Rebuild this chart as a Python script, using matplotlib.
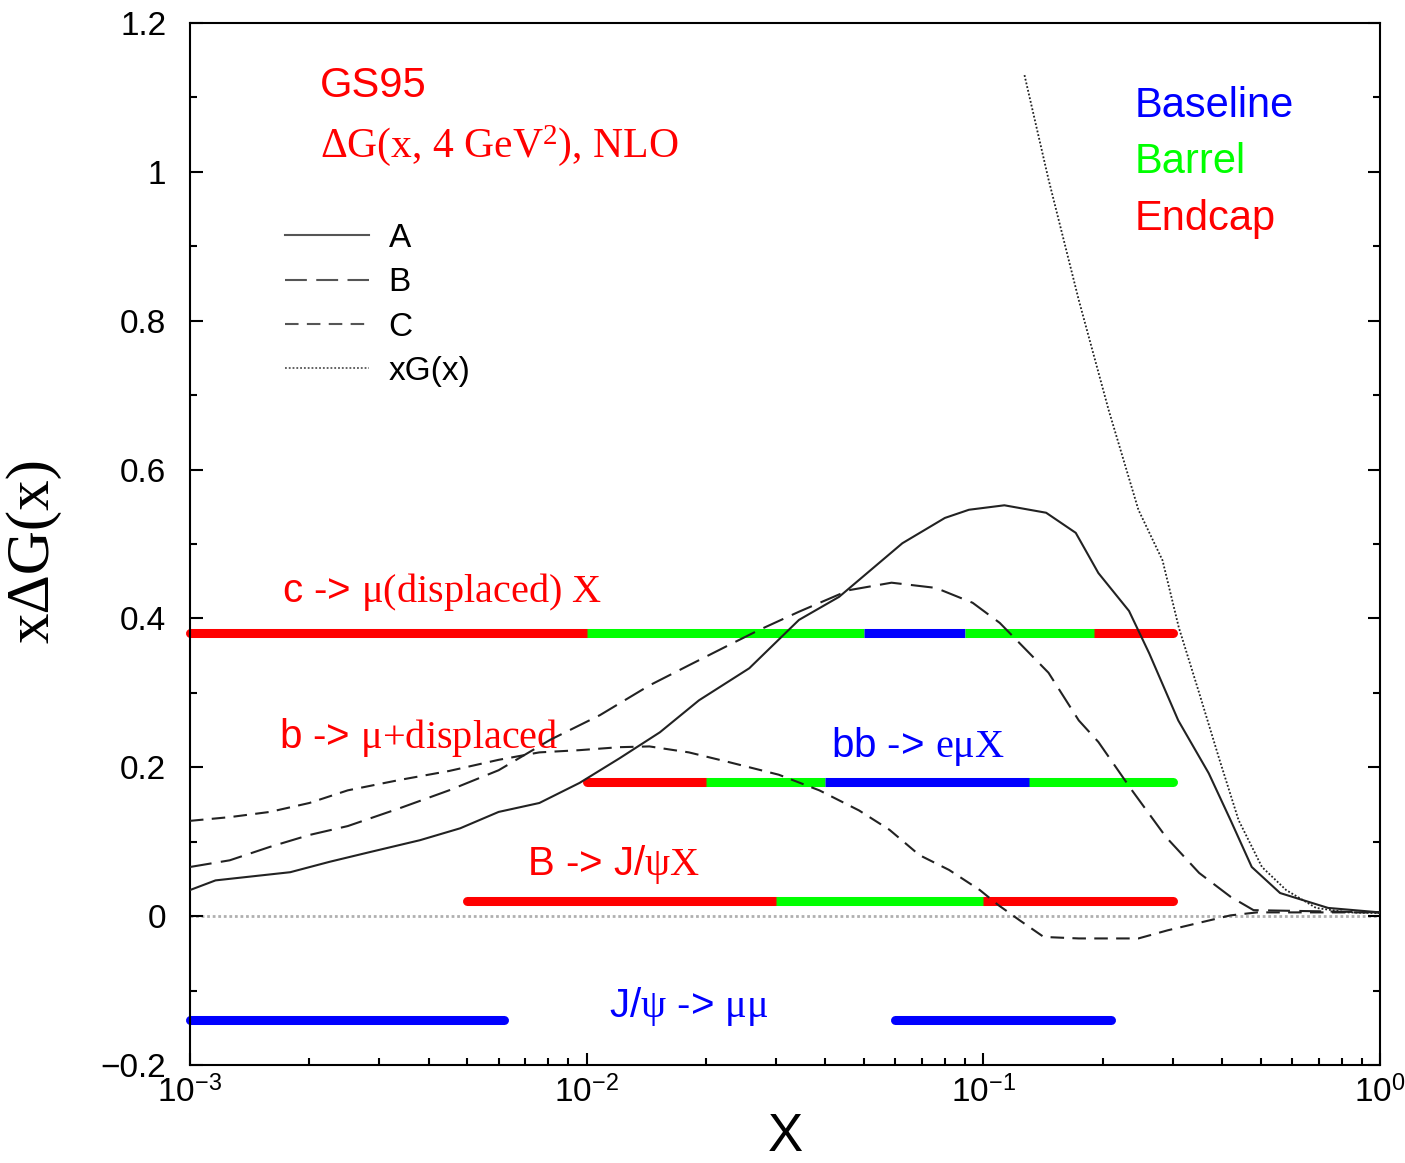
import matplotlib
matplotlib.use('Agg')
import matplotlib.pyplot as plt
from matplotlib.ticker import FixedLocator, FixedFormatter, LogLocator, NullFormatter, MultipleLocator

plt.rcParams['font.family'] = ['Liberation Sans', 'DejaVu Sans']
plt.rcParams['mathtext.fontset'] = 'custom'
plt.rcParams['mathtext.rm'] = 'Liberation Serif'
plt.rcParams['mathtext.it'] = 'Liberation Serif:italic'
plt.rcParams['mathtext.bf'] = 'Liberation Serif:bold'
plt.rcParams['mathtext.sf'] = 'Liberation Sans'

# curves
xA = [0.001, 0.00116, 0.00179, 0.00225, 0.00284, 0.0038, 0.0048, 0.006, 0.0076, 0.0096,
      0.0121, 0.0153, 0.0192, 0.0257, 0.0343, 0.0433, 0.0625, 0.08, 0.092, 0.113, 0.144,
      0.171, 0.195, 0.233, 0.262, 0.31, 0.37, 0.42, 0.475, 0.56, 0.74, 1.0]
yA = [0.035, 0.048, 0.059, 0.073, 0.086, 0.102, 0.118, 0.14, 0.152, 0.179,
      0.212, 0.247, 0.29, 0.333, 0.398, 0.429, 0.501, 0.535, 0.546, 0.552, 0.542,
      0.515, 0.461, 0.41, 0.353, 0.263, 0.192, 0.129, 0.066, 0.031, 0.011, 0.005]

xB = [0.001, 0.00126, 0.00159, 0.002, 0.0025, 0.00338, 0.0045, 0.006, 0.0081, 0.0108,
      0.0144, 0.0181, 0.0228, 0.0271, 0.0343, 0.0459, 0.0587, 0.0759, 0.094, 0.11,
      0.146, 0.174, 0.195, 0.237, 0.289, 0.35, 0.42, 0.48, 1.0]
yB = [0.066, 0.075, 0.093, 0.109, 0.121, 0.145, 0.169, 0.196, 0.237, 0.27,
      0.31, 0.337, 0.364, 0.384, 0.409, 0.438, 0.448, 0.441, 0.421, 0.394,
      0.327, 0.263, 0.234, 0.169, 0.106, 0.058, 0.026, 0.008, 0.005]

xC = [0.001, 0.00126, 0.00159, 0.002, 0.0025, 0.00338, 0.0045, 0.006, 0.0076, 0.0096,
      0.0121, 0.0144, 0.0181, 0.0228, 0.0305, 0.0386, 0.0486, 0.058, 0.069, 0.082,
      0.098, 0.109, 0.123, 0.142, 0.174, 0.246, 0.292, 0.35, 0.42, 0.49, 1.0]
yC = [0.128, 0.133, 0.14, 0.152, 0.169, 0.183, 0.195, 0.21, 0.22, 0.223,
      0.227, 0.228, 0.22, 0.207, 0.19, 0.169, 0.142, 0.116, 0.082, 0.062,
      0.035, 0.015, -0.005, -0.028, -0.03, -0.03, -0.019, -0.009, 0.001, 0.005, 0.005]

xG = [0.127, 0.146, 0.174, 0.207, 0.246, 0.283, 0.311, 0.35, 0.394, 0.44, 0.504, 0.58, 0.69, 0.83, 1.0]
yG = [1.13, 0.99, 0.828, 0.68, 0.546, 0.478, 0.388, 0.30, 0.21, 0.129, 0.066, 0.035, 0.011, 0.005, 0.004]

# detector coverage bars: segment edges, colours, height
c_edges = [0.001, 0.01, 0.05, 0.09, 0.19, 0.3]
c_cols = ['red', 'lime', 'blue', 'lime', 'red']
c_y = 0.38
b_edges = [0.01, 0.02, 0.04, 0.13, 0.3]
b_cols = ['red', 'lime', 'blue', 'lime']
b_y = 0.18
B_edges = [0.005, 0.03, 0.1, 0.3]
B_cols = ['red', 'lime', 'red']
B_y = 0.02
jpsi_segs = [(0.001, 0.0062), (0.06, 0.21)]
jpsi_y = -0.14

fig = plt.figure(figsize=(14.05, 11.63), dpi=100)
ax = fig.add_axes([0.1352, 0.0843, 0.847, 0.8959])

ax.axhline(0, color='#b0b0b0', lw=2, ls=(0, (1, 1)), zorder=1)

def bar(edges, cols, y):
    n = len(cols)
    for i in range(n):
        end = (i == 0 or i == n - 1)
        ax.plot([edges[i], edges[i + 1]], [y, y], color=cols[i], lw=6.5,
                solid_capstyle='round' if end else 'butt',
                zorder=2 if end else 3, clip_on=False)

bar(c_edges, c_cols, c_y)
bar(b_edges, b_cols, b_y)
bar(B_edges, B_cols, B_y)
for s in jpsi_segs:
    ax.plot(s, [jpsi_y, jpsi_y], color='blue', lw=6.5, solid_capstyle='round', clip_on=False)

lc = '#222222'
ax.plot(xA, yA, color=lc, lw=1.5, label='A', zorder=4)
ax.plot(xB, yB, color=lc, lw=1.5, ls=(0, (10.5, 4.5)), label='B', zorder=4)
ax.plot(xC, yC, color=lc, lw=1.5, ls=(0, (6.5, 4)), label='C', zorder=4)
ax.plot(xG, yG, color=lc, lw=1.3, ls=(0, (1, 1.1)), label='xG(x)', zorder=4)

ax.set_xscale('log')
ax.set_xlim(1e-3, 1)
ax.set_ylim(-0.2, 1.2)

ax.xaxis.set_major_locator(FixedLocator([1e-3, 1e-2, 1e-1, 1]))
ax.xaxis.set_major_formatter(FixedFormatter([r'10$^{\mathsf{-3}}$', r'10$^{\mathsf{-2}}$',
                                             r'10$^{\mathsf{-1}}$', r'10$^{\mathsf{0}}$']))
ax.xaxis.set_minor_locator(LogLocator(base=10, subs=range(2, 10)))
ax.xaxis.set_minor_formatter(NullFormatter())
ax.yaxis.set_major_locator(FixedLocator([-0.2, 0, 0.2, 0.4, 0.6, 0.8, 1.0, 1.2]))
ax.yaxis.set_major_formatter(FixedFormatter(['\u22120.2', '0', '0.2', '0.4', '0.6', '0.8', '1', '1.2']))
ax.yaxis.set_minor_locator(MultipleLocator(0.1))

ax.tick_params(which='both', direction='in', left=True, right=True, bottom=True, top=False,
               labelsize=24, width=1.5)
ax.tick_params(which='major', length=9)
ax.tick_params(which='minor', length=5)
ax.tick_params(axis='y', which='major', pad=17)
ax.tick_params(axis='x', which='major', pad=8)
for sp in ax.spines.values():
    sp.set_linewidth(1.5)

ax.set_xlabel('X', fontsize=38)
ax.xaxis.set_label_coords(0.5, -0.045)
ax.set_ylabel('x\u0394G(x)', fontsize=44, family='Liberation Serif')
ax.yaxis.set_label_coords(-0.108, 0.494)

red = '#ff0000'
blue = '#0000ff'
ax.text(2.125e-3, 1.101, 'GS95', color=red, fontsize=30)
ax.text(2.125e-3, 1.02, '\u0394G(x, 4 GeV$^2$), NLO', color=red, fontsize=30,
        family='Liberation Serif')
ax.text(0.240, 1.074, 'Baseline', color=blue, fontsize=30)
ax.text(0.240, 0.999, 'Barrel', color='lime', fontsize=30)
ax.text(0.240, 0.922, 'Endcap', color=red, fontsize=30)

ax.text(1.71e-3, 0.422, r'c -> $\mathrm{\mu(displaced)\ X}$', color=red, fontsize=29)
ax.text(1.68e-3, 0.226, r'b -> $\mathrm{\mu{+}displaced}$', color=red, fontsize=29)
ax.text(0.0414, 0.214, r'bb -> $\mathrm{e\mu X}$', color=blue, fontsize=29)
ax.text(7.06e-3, 0.055, r'B -> J/$\mathrm{\psi X}$', color=red, fontsize=29)
ax.text(0.0114, -0.136, r'J/$\mathrm{\psi}$ -> $\mathrm{\mu\mu}$', color=blue, fontsize=29)

leg = ax.legend(loc='upper left', bbox_to_anchor=(0.055, 0.837), frameon=False, fontsize=24,
                handlelength=2.5, handletextpad=0.6, labelspacing=0.4)
for h in leg.get_lines():
    h.set_color('#555555')

fig.savefig('out.png', dpi=100)
